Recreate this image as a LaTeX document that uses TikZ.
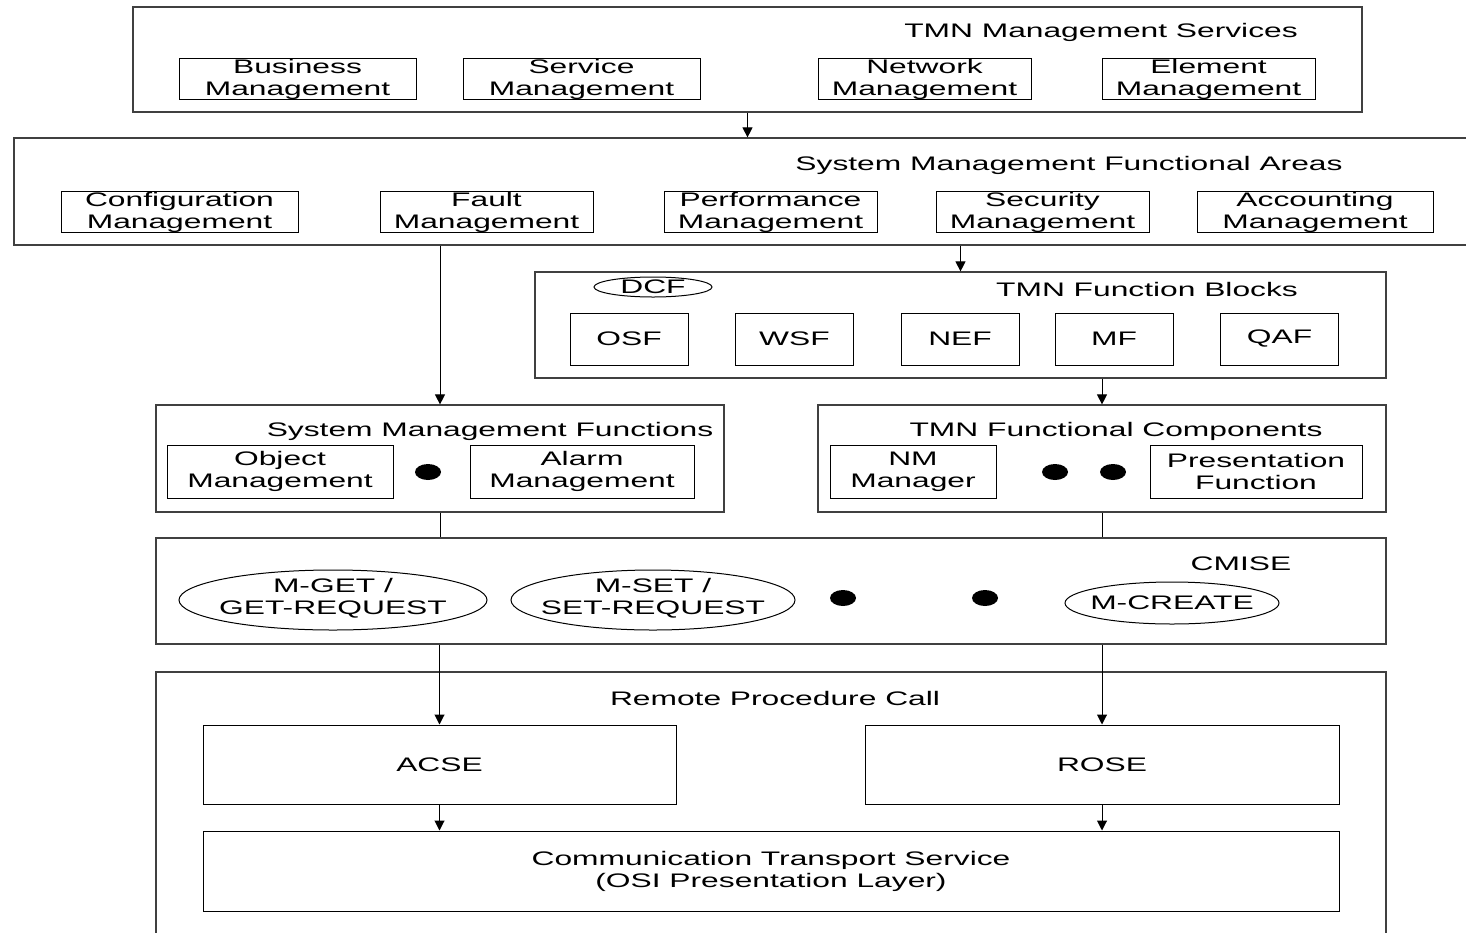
\documentclass[tikz,border=0pt]{standalone}
\usepackage{fontspec}
\setmainfont{Liberation Sans}[FakeStretch=1.62]
\usetikzlibrary{arrows.meta,shapes.geometric}
\begin{document}
\begin{tikzpicture}[x=0.5pt,y=-0.5pt,
  every node/.style={font=\fontsize{9.8}{11}\selectfont, align=center, inner sep=0pt},
  outer/.style={draw=black!75, line width=0.6pt, rectangle},
  inbox/.style={draw=black, line width=0.5pt, rectangle},
  oval/.style={draw=black, line width=0.5pt, ellipse},
  ovalline/.style={draw=black, line width=0.5pt},
  dot/.style={fill=black, ellipse, minimum width=13pt, minimum height=8pt},
  arr/.style={-{Triangle[length=5pt,width=5pt]}, line width=0.5pt},
  ln/.style={line width=0.5pt}]
\path[use as bounding box] (0,0) rectangle (1466,932);
\clip (0,0) rectangle (1466,932);
% Box 1
\node[outer, minimum width=614.5pt, minimum height=52.5pt] (tms) at (747.5,59.5) {};
\node (tmsT) at (1101,32) {TMN Management Services};
\node[inbox, minimum width=118.5pt, minimum height=20pt] (bm) at (297.5,79) {Business\\Management};
\node[inbox, minimum width=118.5pt, minimum height=20pt] (sm) at (581.5,79) {Service\\Management};
\node[inbox, minimum width=106.5pt, minimum height=20pt] (nm) at (924.5,79) {Network\\Management};
\node[inbox, minimum width=106.5pt, minimum height=20pt] (em) at (1208.5,79) {Element\\Management};
% Box 2
\node[outer, minimum width=760pt, minimum height=53.5pt] (smfa) at (774,191.5) {};
\node (smfaT) at (1069,165) {System Management Functional Areas};
\node[inbox, minimum width=118.5pt, minimum height=20pt] (cm) at (179.5,212) {Configuration\\Management};
\node[inbox, minimum width=106.5pt, minimum height=20pt] (fm) at (486.5,212) {Fault\\Management};
\node[inbox, minimum width=106.5pt, minimum height=20pt] (pm) at (770.5,212) {Performance\\Management};
\node[inbox, minimum width=106.5pt, minimum height=20pt] (secm) at (1042.5,212) {Security\\Management};
\node[inbox, minimum width=118pt, minimum height=20pt] (am) at (1315,212) {Accounting\\Management};
% Box 3
\node[outer, minimum width=425.5pt, minimum height=53pt] (tfb) at (960.5,325) {};
\node (tfbT) at (1147,289) {TMN Function Blocks};
\node[oval, minimum width=59pt, minimum height=10pt] (dcf) at (653,287) {DCF};
\node[inbox, minimum width=59pt, minimum height=26pt] (osf) at (629,339) {OSF};
\node[inbox, minimum width=59pt, minimum height=26pt] (wsf) at (794.5,339) {WSF};
\node[inbox, minimum width=59pt, minimum height=26pt] (nef) at (960,339) {NEF};
\node[inbox, minimum width=59pt, minimum height=26pt] (mf) at (1114,339) {MF};
\node[inbox, minimum width=59pt, minimum height=26pt] (qaf) at (1279.5,339) {QAF};
% Box 4
\node[outer, minimum width=284pt, minimum height=53.5pt] (smf) at (440,458.5) {};
\node (smfT) at (490,431) {System Management Functions};
\node[inbox, minimum width=113pt, minimum height=26.5pt] (om) at (280,471.5) {Object\\Management};
\node[inbox, minimum width=112pt, minimum height=26.5pt] (alm) at (582,471.5) {Alarm\\Management};
\node[dot] (d1) at (428,472) {};
% Box 5
\node[outer, minimum width=284pt, minimum height=53.5pt] (tfc) at (1102,458.5) {};
\node (tfcT) at (1116,431) {TMN Functional Components};
\node[inbox, minimum width=83pt, minimum height=26.5pt] (nmm) at (913,471.5) {NM\\Manager};
\node[inbox, minimum width=106pt, minimum height=26.5pt] (pf) at (1256,471.5) {Presentation\\Function};
\node[dot] (d2) at (1055,472) {};
\node[dot] (d3) at (1113,472) {};
% Box 6
\node[outer, minimum width=615pt, minimum height=53pt] (cmise) at (771,591) {};
\node (cmiseT) at (1241,564) {CMISE};
\node (e1) at (333,598) {M-GET /\\GET-REQUEST};
\draw[ovalline] (e1.center) ++(0,2) ellipse [x radius=154, y radius=30];
\node (e2) at (653,598) {M-SET /\\SET-REQUEST};
\draw[ovalline] (e2.center) ++(0,2) ellipse [x radius=142, y radius=30];
\node (e3) at (1172,603) {M-CREATE};
\draw[ovalline] (e3.center) ellipse [x radius=107, y radius=21];
\node[dot] (d4) at (843,598) {};
\node[dot] (d5) at (985,598) {};
% Box 7
\node[outer, minimum width=615pt, minimum height=150pt] (rpc) at (771,822) {};
\node (rpcT) at (775,698) {Remote Procedure Call};
\node[inbox, minimum width=236.5pt, minimum height=39.5pt] (acse) at (439.5,764.5) {ACSE};
\node[inbox, minimum width=237pt, minimum height=39.5pt] (rose) at (1102,764.5) {ROSE};
\node[inbox, minimum width=568pt, minimum height=40pt] (cts) at (771,871) {Communication Transport Service\\(OSI Presentation Layer)};
% Connectors
\draw[arr] (tms.south) -- (tms.south |- smfa.north);
\draw[arr] (smf.north |- smfa.south) -- (smf.north);
\draw[arr] (tfb.north |- smfa.south) -- (tfb.north);
\draw[arr] (tfc.north |- tfb.south) -- (tfc.north);
\draw[ln] (smf.south) -- (smf.south |- cmise.north);
\draw[ln] (tfc.south) -- (tfc.south |- cmise.north);
\draw[arr] (acse.north |- cmise.south) -- (acse.north);
\draw[arr] (rose.north |- cmise.south) -- (rose.north);
\draw[arr] (acse.south) -- (acse.south |- cts.north);
\draw[arr] (rose.south) -- (rose.south |- cts.north);
\end{tikzpicture}
\end{document}
